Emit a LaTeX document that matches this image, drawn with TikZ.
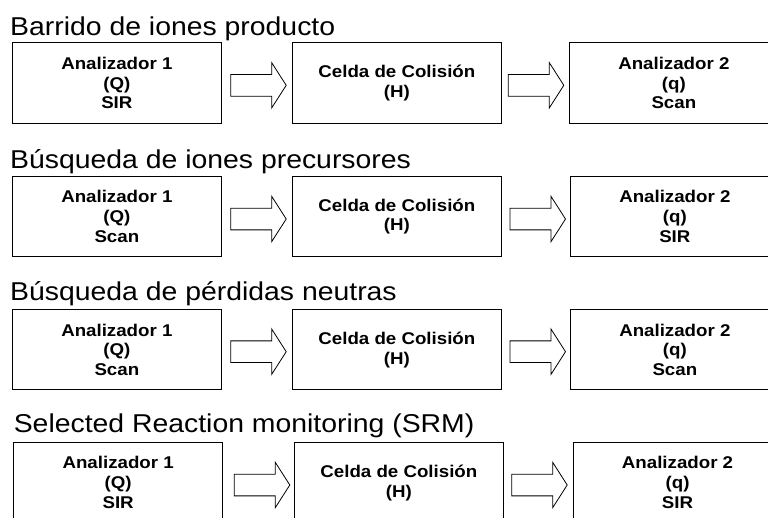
\documentclass[tikz,border=0pt]{standalone}
\usepackage{fontspec}
\setmainfont[FakeStretch=1.1]{Liberation Sans}
\usetikzlibrary{calc}
\tikzset{
  box/.style={draw=black, line width=1pt, minimum width=208.7pt, minimum height=81pt,
    inner sep=0pt, align=center, font=\fontsize{17}{19.8}\selectfont\bfseries},
  ttl/.style={anchor=base west, inner sep=0pt, font=\fontsize{25.8}{30}\selectfont},
  arr/.style={draw=black, line width=0.8pt, fill=white, line join=miter}
}
\newcommand\hollowarrow[1]{\path[arr] ($(#1)+(0,-10.85)$) -- ++(41,0) -- ++(0,-11.8) -- ++(14.5,22.65) -- ++(-14.5,22.65) -- ++(0,-11.8) -- ++(-41,0) -- cycle;}
\begin{document}
\begin{tikzpicture}[x=1pt,y=-1pt]
\useasboundingbox (0,0) rectangle (768,517);
\clip (0,0) rectangle (768,517);
% Row 1
\node[ttl] (t1) at (10,35) {Barrido de iones producto};
\node[box, anchor=north west] (b11) at (12,42) {Analizador 1\\(Q)\\SIR};
\node[box, anchor=north west] (b12) at (292,42) {Celda de Colisión\\(H)};
\node[box, anchor=north west] (b13) at (569,42) {Analizador 2\\(q)\\Scan};
\coordinate (a11) at (230.7,85.3);
\coordinate (a12) at (508.3,85.3);
\hollowarrow{a11}
\hollowarrow{a12}
% Row 2
\node[ttl] (t2) at (10,168.3) {Búsqueda de iones precursores};
\node[box, anchor=north west, minimum height=80pt] (b21) at (12,176) {Analizador 1\\(Q)\\Scan};
\node[box, anchor=north west, minimum height=80pt] (b22) at (292,176) {Celda de Colisión\\(H)};
\node[box, anchor=north west, minimum height=80pt] (b23) at (570,176) {Analizador 2\\(q)\\SIR};
\coordinate (a21) at (230.7,219);
\coordinate (a22) at (510,219);
\hollowarrow{a21}
\hollowarrow{a22}
% Row 3
\node[ttl] (t3) at (10,300.7) {Búsqueda de pérdidas neutras};
\node[box, anchor=north west, minimum height=80pt] (b31) at (12,309.3) {Analizador 1\\(Q)\\Scan};
\node[box, anchor=north west, minimum height=80pt] (b32) at (292,309.3) {Celda de Colisión\\(H)};
\node[box, anchor=north west, minimum height=80pt] (b33) at (570,309.3) {Analizador 2\\(q)\\Scan};
\coordinate (a31) at (230.7,351.7);
\coordinate (a32) at (510,351.7);
\hollowarrow{a31}
\hollowarrow{a32}
% Row 4
\node[ttl] (t4) at (13.6,432.7) {Selected Reaction monitoring (SRM)};
\node[box, anchor=north west] (b41) at (13.3,441.7) {Analizador 1\\(Q)\\SIR};
\node[box, anchor=north west] (b42) at (294,441.7) {Celda de Colisión\\(H)};
\node[box, anchor=north west] (b43) at (572.7,441.7) {Analizador 2\\(q)\\SIR};
\coordinate (a41) at (234.3,485);
\coordinate (a42) at (511.7,485);
\hollowarrow{a41}
\hollowarrow{a42}
\end{tikzpicture}
\end{document}
